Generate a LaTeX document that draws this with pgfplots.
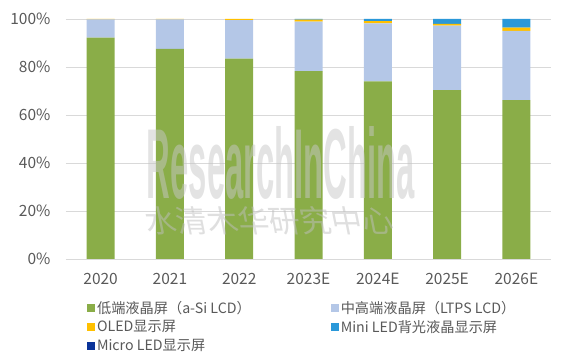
\documentclass[border=0pt]{standalone}
\usepackage{fontspec}
\setmainfont{Noto Sans CJK SC}
\usepackage{graphicx}
\usepackage{pgfplots}
\pgfplotsset{compat=1.18}
\definecolor{cGreen}{HTML}{8AAD48}
\definecolor{cLtps}{HTML}{B4C7E7}
\definecolor{cOled}{HTML}{FFC000}
\definecolor{cMini}{HTML}{2A98D9}
\definecolor{cMicro}{HTML}{0A3399}
\definecolor{cText}{HTML}{595959}
\definecolor{cGrid}{HTML}{D9D9D9}
\begin{document}
\begin{tikzpicture}
\useasboundingbox (-66pt,-104pt) rectangle (501pt,259pt);
\begin{axis}[
  scale only axis,
  width=485pt, height=240pt,
  at={(0pt,0pt)}, anchor=south west,
  ybar stacked,
  bar width=28pt,
  xmin=-0.5, xmax=6.5,
  ymin=0, ymax=100,
  xtick={0,1,2,3,4,5,6},
  xticklabels={2020,2021,2022,2023E,2024E,2025E,2026E},
  ytick={0,20,40,60,80,100},
  yticklabels={0\%,20\%,40\%,60\%,80\%,100\%},
  ymajorgrids,
  grid style={cGrid, line width=0.8pt},
  axis line style={draw=none},
  axis x line*=bottom,
  axis y line*=left,
  major tick length=0pt,
  tick label style={text=cText, font=\fontsize{15.5}{17}\selectfont},
  yticklabel style={xshift=-12pt},
  xticklabel style={yshift=-11pt},
  legend columns=2,
  legend cell align=left,
  legend style={
    draw=none, fill=none, inner sep=0pt,
    at={(0.043,-0.166)}, anchor=north west,
    font=\fontsize{14.2}{16}\selectfont, text=cText,
    row sep=1.5pt,
    /tikz/every even column/.append style={column sep=78pt},
  },
  legend image code/.code={\fill[#1] (0pt,-4pt) rectangle (8pt,4pt);},
  every axis plot/.append style={draw=none},
]
\draw[cGrid, line width=0.8pt] (axis cs:-0.5,0) -- (axis cs:6.5,0);
\addplot[fill=cGreen] coordinates {(0,92.2) (1,87.5) (2,83.5) (3,78.3) (4,74.0) (5,70.4) (6,66.2)};
\addplot[fill=cLtps] coordinates {(0,7.6) (1,12.3) (2,16.0) (3,20.6) (4,24.2) (5,26.8) (6,28.9)};
\addplot[fill=cOled] coordinates {(0,0.2) (1,0.2) (2,0.5) (3,0.8) (4,0.9) (5,0.8) (6,1.3)};
\addplot[fill=cMini] coordinates {(0,0) (1,0) (2,0) (3,0.3) (4,0.9) (5,2.0) (6,3.6)};
\addplot[fill=cMicro] coordinates {(0,0) (1,0) (2,0) (3,0) (4,0) (5,0) (6,0)};
\legend{低端液晶屏（a-Si LCD）,中高端液晶屏（LTPS LCD）,OLED显示屏,Mini LED背光液晶显示屏,Micro LED显示屏}
\end{axis}
\node[text=black!22, opacity=0.5, inner sep=0pt, font=\fontspec{Liberation Sans}\bfseries] at (215pt,96pt) {\resizebox{268pt}{72pt}{ResearchInChina}};
\node[text=black!25, opacity=0.5, inner sep=0pt, xslant=-0.2] at (203pt,38pt) {\resizebox{248pt}{26pt}{水清木华研究中心}};
\end{tikzpicture}
\end{document}
